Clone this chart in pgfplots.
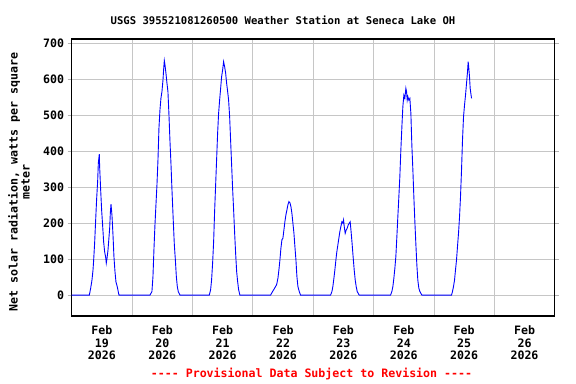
\documentclass[border=0pt]{standalone}
\usepackage{fontspec}
\setmainfont{DejaVu Sans Mono}[Ligatures=TeXOff]
\usepackage{pgfplots}
\pgfplotsset{compat=1.18}
\begin{document}
\begin{tikzpicture}[font=\bfseries]
\path[use as bounding box] (-71.7bp,-68bp) rectangle (504.3bp,316bp);
\begin{axis}[
  at={(0,0)}, anchor=south west,
  scale only axis, width=483bp, height=277bp,
  xmin=0, xmax=8, ymin=-58, ymax=712,
  xtick={0.5,1.5,2.5,3.5,4.5,5.5,6.5,7.5},
  xticklabels={{Feb\\19\\2026},{Feb\\20\\2026},{Feb\\21\\2026},{Feb\\22\\2026},{Feb\\23\\2026},{Feb\\24\\2026},{Feb\\25\\2026},{Feb\\26\\2026}},
  xticklabel style={align=center, font=\fontsize{11.6bp}{12.9bp}\selectfont\bfseries, anchor=center, yshift=-22.7bp},
  minor xtick={1,2,3,4,5,6,7},
  xminorgrids,
  ytick={0,100,200,300,400,500,600,700},
  ymajorgrids,
  grid style={gray!45, line width=0.8bp},
  minor grid style={gray!45, line width=0.8bp},
  x tick style={draw=none},
  minor x tick style={draw=none},
  y tick style={gray!60, line width=0.8bp},
  tick align=outside,
  major tick length=4bp,
  yticklabel style={font=\fontsize{11.6bp}{12bp}\selectfont\bfseries},
  /pgf/number format/assume math mode=true,
  axis line style={black, line width=1.4bp},
]
\addplot[blue, line width=0.9bp] coordinates {
(0,0)
(0.292,0) (0.314,19) (0.336,42) (0.353,70) (0.364,98) (0.380,145) (0.397,209) (0.413,267) (0.430,317) (0.441,367) (0.457,392) (0.463,356) (0.480,292) (0.496,236) (0.513,192) (0.529,148) (0.546,120) (0.562,106) (0.573,89) (0.584,101) (0.601,125) (0.618,162) (0.629,186) (0.640,229) (0.651,253) (0.667,222) (0.684,167) (0.700,106) (0.717,65) (0.733,37) (0.755,23) (0.772,9) (0.783,0)
(1.296,0) (1.329,10) (1.346,52) (1.363,130) (1.379,195) (1.396,253) (1.412,306) (1.429,376) (1.445,464) (1.462,515) (1.478,547) (1.495,566) (1.512,598) (1.523,628) (1.534,652) (1.545,640) (1.561,617) (1.578,589) (1.594,566) (1.611,501) (1.627,431) (1.644,366) (1.661,292) (1.683,204) (1.700,140) (1.717,98) (1.733,52) (1.749,24) (1.765,10) (1.793,0)
(2.279,0) (2.301,15) (2.317,42) (2.334,89) (2.351,149) (2.367,232) (2.384,306) (2.400,376) (2.417,450) (2.433,505) (2.450,542) (2.467,575) (2.483,607) (2.500,626) (2.516,649) (2.533,635) (2.550,617) (2.566,589) (2.583,566) (2.599,542) (2.616,496) (2.632,431) (2.649,362) (2.665,297) (2.682,237) (2.699,172) (2.715,117) (2.732,66) (2.748,38) (2.765,15) (2.786,0)
(3.294,0) (3.327,10) (3.360,19) (3.394,29) (3.416,47) (3.432,70) (3.449,98) (3.465,130) (3.482,154) (3.498,158) (3.515,181) (3.531,204) (3.548,223) (3.565,237) (3.581,251) (3.598,260) (3.614,257) (3.631,246) (3.647,228) (3.664,200) (3.681,172) (3.697,135) (3.714,98) (3.730,52) (3.747,24) (3.769,10) (3.791,0)
(4.288,0) (4.310,10) (4.326,24) (4.343,47) (4.359,70) (4.376,98) (4.392,121) (4.409,140) (4.425,158) (4.442,177) (4.459,191) (4.475,204) (4.492,200) (4.503,209) (4.514,191) (4.530,172) (4.547,181) (4.563,186) (4.580,195) (4.597,200) (4.613,204) (4.630,172) (4.646,140) (4.663,103) (4.679,70) (4.696,42) (4.712,24) (4.729,10) (4.762,0)
(5.281,0) (5.303,10) (5.320,24) (5.336,47) (5.353,75) (5.369,107) (5.386,163) (5.402,218) (5.419,274) (5.435,329) (5.452,404) (5.469,468) (5.485,524) (5.502,556) (5.518,547) (5.535,575) (5.546,566) (5.557,542) (5.568,552) (5.584,542) (5.601,547) (5.618,505) (5.634,417) (5.651,348) (5.667,274) (5.684,204) (5.700,144) (5.717,84) (5.733,42) (5.750,19) (5.767,10) (5.800,0)
(6.291,0) (6.307,10) (6.324,24) (6.341,42) (6.357,70) (6.374,98) (6.390,135) (6.407,172) (6.424,218) (6.440,274) (6.457,348) (6.473,431) (6.490,496) (6.507,529) (6.523,556) (6.540,589) (6.556,621) (6.567,649) (6.578,630) (6.589,607) (6.600,575) (6.611,561) (6.623,547)
};
\end{axis}
\node[font=\fontsize{10.6bp}{12bp}\selectfont\bfseries] at (211.3bp,296bp) {USGS 395521081260500 Weather Station at Seneca Lake OH};
\node[font=\fontsize{11.6bp}{12bp}\selectfont\bfseries, rotate=90, align=center] at (-52.7bp,134bp) {Net solar radiation, watts per square\\meter};
\node[font=\fontsize{11.6bp}{12bp}\selectfont\bfseries, text=red] at (239.8bp,-58.3bp) {---- Provisional Data Subject to Revision ----};
\end{tikzpicture}
\end{document}
